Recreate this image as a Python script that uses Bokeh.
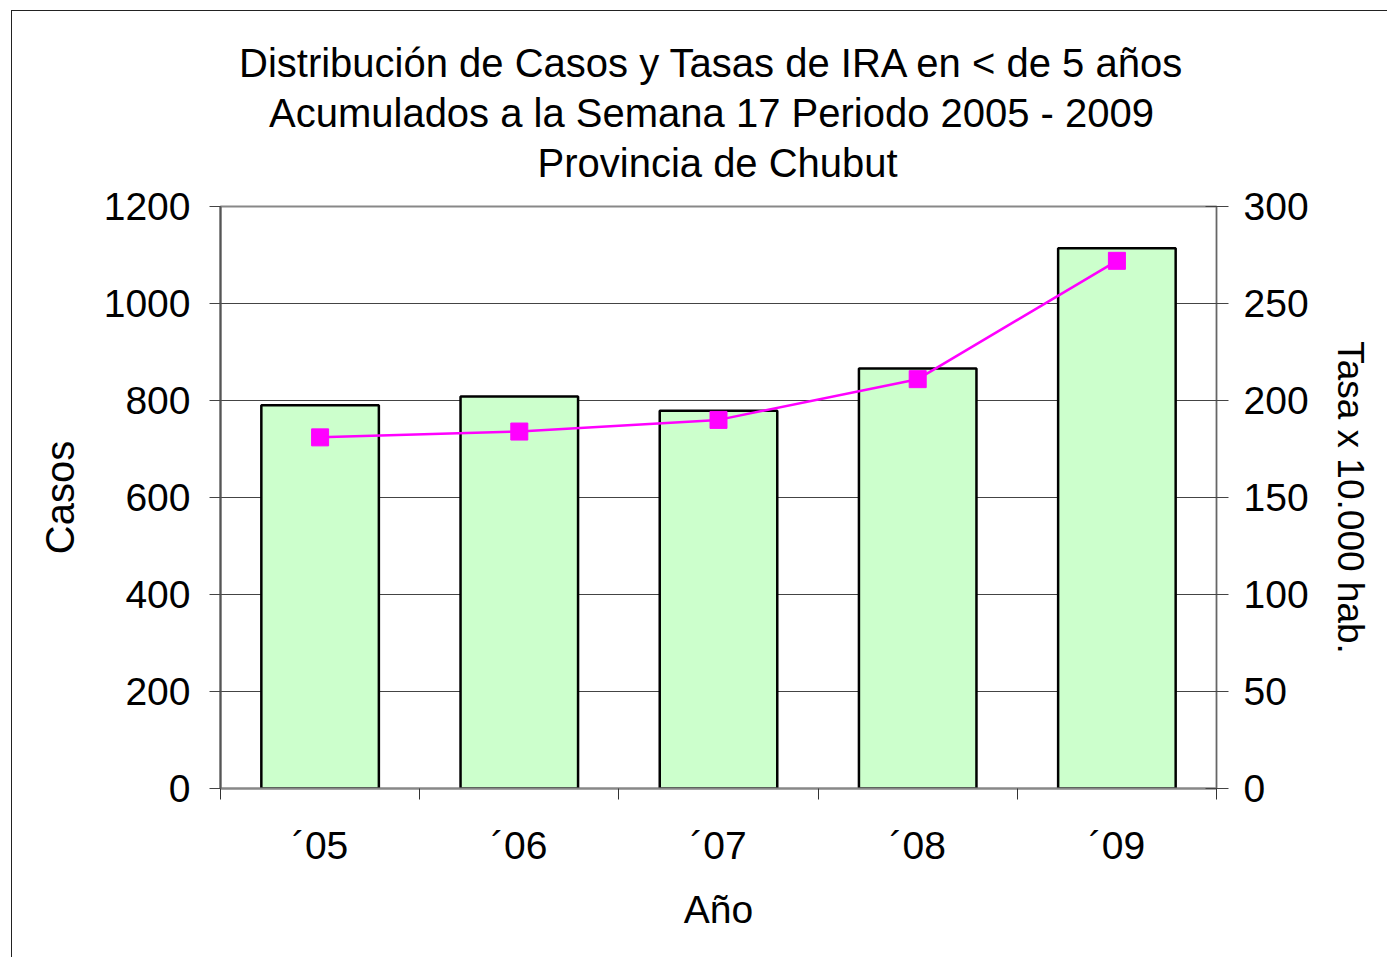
from bokeh.plotting import figure
from bokeh.models import Range1d, LinearAxis, FixedTicker, Title
from bokeh.embed import file_html
from bokeh.resources import INLINE

years = ["\u00b405", "\u00b406", "\u00b407", "\u00b408", "\u00b409"]
casos = [790, 808, 779, 866, 1114]
tasas = [181, 184, 190, 211, 272]
left_ticks = [0, 200, 400, 600, 800, 1000, 1200]
right_ticks = [0, 50, 100, 150, 200, 250, 300]
title_lines = [
    "Distribución de Casos y Tasas de IRA en < de 5 años",
    "Acumulados a la Semana 17 Periodo 2005 - 2009",
    "Provincia de Chubut",
]

FONT = "Liberation Sans"
xpos = [i + 0.5 for i in range(len(years))]
bounds = list(range(len(years) + 1))

p = figure(width=1376, height=947, output_backend="svg", toolbar_location=None,
           title=None,
           x_range=Range1d(0, len(years)), y_range=Range1d(0, 1200),
           min_border_left=208, min_border_right=172, min_border_top=195,
           min_border_bottom=170)
p.styles = {"margin-left": "11px", "margin-top": "10px",
            "border-left": "1px solid #222222", "border-top": "1px solid #222222"}
p.extra_y_ranges = {"tasa": Range1d(0, 300)}
p.background_fill_color = "white"
p.border_fill_color = "white"
p.outline_line_color = "#888888"
p.outline_line_width = 2

# titles (added bottom-most first): line 3, line 2, line 1
title_standoffs = [44, -36, 43]
title_offsets = [317, 48.5, 18.5]
for t, so, off in zip(reversed(title_lines), title_standoffs, title_offsets):
    p.add_layout(Title(text=t, align="left", text_font=FONT, text_font_size="40px",
                       text_font_style="normal", text_color="black",
                       standoff=so, offset=off), "above")

p.vbar(x=xpos, top=casos, width=0.59, fill_color="#CCFFCC", line_color="black", line_width=2.5)
p.line(xpos, tasas, y_range_name="tasa", line_color="#FF00FF", line_width=2.5)
p.scatter(xpos, tasas, y_range_name="tasa", marker="square", size=17,
          fill_color="#FF00FF", line_color="#FF00FF")

# x axis
xa = p.xaxis[0]
xa.ticker = FixedTicker(ticks=xpos, minor_ticks=bounds)
xa.major_label_overrides = {x: lab for x, lab in zip(xpos, years)}
xa.major_tick_line_color = None
xa.minor_tick_in = 0
xa.minor_tick_out = 11
xa.minor_tick_line_color = "#333333"
xa.axis_line_color = "#888888"
xa.axis_line_width = 2
xa.major_label_standoff = 24
xa.major_label_text_font = FONT
xa.major_label_text_font_size = "39px"
xa.major_label_text_color = "black"
xa.axis_label = "Año"
xa.axis_label_text_font = FONT
xa.axis_label_text_font_size = "39px"
xa.axis_label_text_font_style = "normal"
xa.axis_label_text_color = "black"
xa.axis_label_standoff = 18

p.xgrid.visible = False

ya = p.yaxis[0]
ya.ticker = FixedTicker(ticks=left_ticks)
ya.major_tick_in = 0
ya.major_tick_out = 11
ya.major_tick_line_color = "#444444"
ya.minor_tick_line_color = None
ya.axis_line_color = "#555555"
ya.axis_line_width = 2
ya.major_label_standoff = 19
ya.major_label_text_font = FONT
ya.major_label_text_font_size = "39px"
ya.major_label_text_color = "black"
ya.axis_label = "Casos"
ya.axis_label_text_font = FONT
ya.axis_label_text_font_size = "40px"
ya.axis_label_text_font_style = "normal"
ya.axis_label_text_color = "black"
ya.axis_label_standoff = 19

p.ygrid.ticker = FixedTicker(ticks=left_ticks)
p.ygrid.grid_line_color = "#444444"
p.ygrid.grid_line_width = 1

ra = LinearAxis(y_range_name="tasa", ticker=FixedTicker(ticks=right_ticks))
ra.major_tick_in = 11
ra.major_tick_out = 12
ra.major_tick_line_color = "#444444"
ra.minor_tick_line_color = None
ra.axis_line_color = "#666666"
ra.axis_line_width = 1
ra.major_label_standoff = 15
ra.major_label_text_font = FONT
ra.major_label_text_font_size = "39px"
ra.major_label_text_color = "black"
ra.axis_label = "Tasa x 10.000 hab."
ra.axis_label_text_font = FONT
ra.axis_label_text_font_size = "37px"
ra.axis_label_text_font_style = "normal"
ra.axis_label_text_color = "black"
ra.axis_label_standoff = 18
p.add_layout(ra, "right")

open("out.html", "w").write(file_html(p, INLINE))
